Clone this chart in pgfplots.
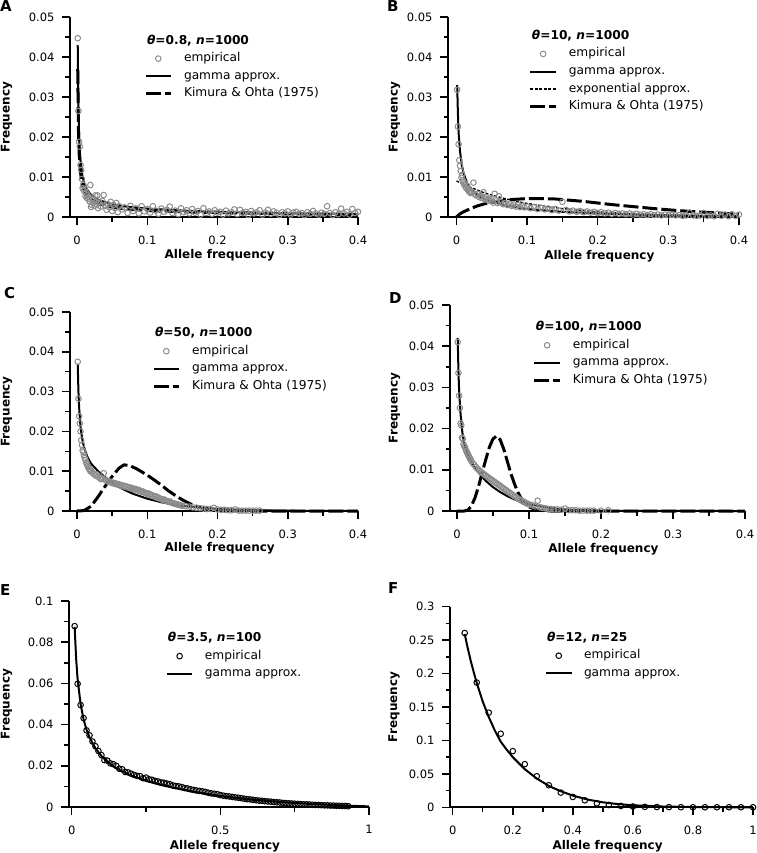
\documentclass[border=0pt]{standalone}
\usepackage{fontspec}
\setmainfont{DejaVu Sans}
\usepackage{pgfplots}
\pgfplotsset{compat=1.18}

\pgfplotsset{
  panel/.style={
    scale only axis,
    axis lines=left,
    axis line style={-, line width=1.8pt},
    tick align=outside,
    major tick length=8pt,
    minor tick length=4.5pt,
    every tick/.style={black, line width=1.5pt},
    minor x tick num=1, minor y tick num=1,
    scaled x ticks=false, scaled y ticks=false,
    tick label style={font=\fontsize{11.5}{13}\selectfont},
    xticklabel shift=7pt, yticklabel shift=4pt,
    /pgf/number format/fixed,
    /pgf/number format/precision=3,
    /pgf/number format/assume math mode=true,
    ymin=0, clip=false,
    xlabel={Allele frequency}, ylabel={Frequency},
    label style={font=\bfseries\fontsize{12}{14}\selectfont},
    legend style={draw=none, fill=none, inner sep=0pt, outer sep=0pt,
      anchor=north west, row sep=5.6pt, column sep=11.5pt,
      nodes={inner sep=0pt, text height=9pt, text depth=3pt,
        font=\fontsize{12.2}{14}\selectfont}},
    legend cell align=left,
    legend image code/.code={\draw[mark repeat=2,mark phase=2,##1]
      plot coordinates {(0pt,0pt) (12.75pt,0pt) (25.5pt,0pt)};},
  },
  emp/.style={only marks, mark=o, mark size=2.8pt,
    mark options={line width=1pt, draw=#1}, draw=#1,
    legend image code/.code={\draw[mark repeat=2,mark phase=2,##1]
      plot coordinates {(0pt,0pt) (12.75pt,0pt) (25.5pt,0pt)};}},
  gam/.style={black, line width=2pt},
  kim/.style={black, line width=3pt, dash pattern=on 15pt off 4pt},
  expo/.style={black, line width=1.3pt, dash pattern=on 3pt off 1.5pt},
}
\colorlet{empgray}{black!45}

\begin{document}
\begin{tikzpicture}
\path[use as bounding box] (0pt,0pt) rectangle (756pt,-853pt);

% ---------- A ----------
\begin{axis}[panel, at={(70pt,-217pt)}, anchor=south west,
  width=288pt, height=200pt, xmin=-0.01, xmax=0.4, ymax=0.05,
  xtick={0,0.1,0.2,0.3,0.4}, ytick={0,0.01,0.02,0.03,0.04,0.05},
  xlabel style={at={(axis description cs:0.52,-0.19)}, anchor=center},
  ylabel style={at={(axis description cs:-0.2205,0.5)}, anchor=center},
  legend style={at={(0.257,0.91)}}]
\addlegendimage{empty legend}
\addlegendentry{\hspace*{-37pt}\textbf{\textit{θ}=0.8, \textit{n}=1000}}
\addplot[emp=empgray] coordinates {
(0.001,0.0447)(0.002,0.0265)(0.003,0.0188)(0.004,0.0176)(0.005,0.0130)(0.006,0.0118)
(0.007,0.0095)(0.008,0.0072)(0.009,0.0080)(0.010,0.0065)(0.011,0.0070)(0.012,0.0052)
(0.013,0.0060)(0.014,0.0048)(0.015,0.0055)(0.016,0.0045)(0.017,0.0050)(0.018,0.0039)
(0.019,0.0080)(0.020,0.0025)(0.021,0.0030)(0.022,0.0045)(0.023,0.0035)(0.024,0.0042)
(0.025,0.0028)(0.026,0.0054)(0.027,0.0038)(0.028,0.0031)(0.029,0.0054)(0.030,0.0022)
(0.032,0.0036)(0.034,0.0026)(0.036,0.0040)(0.038,0.0055)(0.040,0.0028)(0.042,0.0018)
(0.044,0.0032)(0.046,0.0024)(0.048,0.0038)(0.050,0.0015)(0.052,0.0030)(0.054,0.0022)
(0.056,0.0035)(0.058,0.0012)(0.060,0.0027)(0.064,0.0019)(0.068,0.0024)(0.072,0.0010)
(0.076,0.0028)(0.080,0.0015)(0.084,0.0022)(0.088,0.0009)(0.092,0.0027)(0.096,0.0014)
(0.100,0.0020)(0.104,0.0011)(0.108,0.0027)(0.112,0.0016)(0.116,0.0008)(0.120,0.0021)
(0.124,0.0013)(0.128,0.0018)(0.132,0.0026)(0.136,0.0010)(0.140,0.0016)(0.144,0.0007)
(0.148,0.0022)(0.152,0.0012)(0.156,0.0017)(0.160,0.0009)(0.164,0.0020)(0.168,0.0011)
(0.172,0.0015)(0.176,0.0006)(0.180,0.0022)(0.184,0.0010)(0.188,0.0014)(0.192,0.0008)
(0.196,0.0017)(0.200,0.0011)(0.204,0.0013)(0.208,0.0006)(0.212,0.0016)(0.216,0.0009)
(0.220,0.0012)(0.224,0.0019)(0.228,0.0007)(0.232,0.0018)(0.236,0.0010)(0.240,0.0013)
(0.244,0.0005)(0.248,0.0015)(0.252,0.0009)(0.256,0.0012)(0.260,0.0017)(0.264,0.0006)
(0.268,0.0011)(0.272,0.0018)(0.276,0.0008)(0.280,0.0014)(0.284,0.0010)(0.288,0.0005)
(0.292,0.0012)(0.296,0.0009)(0.300,0.0014)(0.304,0.0006)(0.308,0.0011)(0.312,0.0013)
(0.316,0.0008)(0.320,0.0010)(0.324,0.0005)(0.328,0.0012)(0.332,0.0008)(0.336,0.0015)
(0.340,0.0009)(0.344,0.0006)(0.348,0.0011)(0.352,0.0008)(0.356,0.0027)(0.360,0.0010)
(0.364,0.0005)(0.368,0.0012)(0.372,0.0007)(0.376,0.0021)(0.380,0.0009)(0.384,0.0013)
(0.388,0.0006)(0.392,0.0020)(0.396,0.0010)(0.400,0.0013)};
\addlegendentry{empirical}
\addplot[gam] coordinates {
(0.001,0.043)(0.002,0.027)(0.003,0.020)(0.004,0.0165)(0.005,0.014)(0.0075,0.0105)
(0.01,0.0085)(0.015,0.0066)(0.02,0.0055)(0.03,0.0043)(0.04,0.0037)(0.05,0.0032)
(0.07,0.0026)(0.1,0.0021)(0.15,0.0016)(0.2,0.0013)(0.25,0.0011)(0.3,0.0009)
(0.35,0.0008)(0.4,0.0007)};
\addlegendentry{gamma approx.}
\addplot[kim] coordinates {
(0.001,0.037)(0.002,0.022)(0.003,0.016)(0.005,0.011)(0.0075,0.0082)(0.01,0.0067)
(0.015,0.0052)(0.02,0.0044)(0.03,0.0034)(0.05,0.0025)(0.07,0.0020)(0.1,0.0016)
(0.15,0.0013)(0.2,0.0011)(0.3,0.0008)(0.4,0.0006)};
\addlegendentry{Kimura \& Ohta (1975)}
\end{axis}

% ---------- B ----------
\begin{axis}[panel, at={(448pt,-217pt)}, anchor=south west,
  width=291pt, height=200pt, xmin=-0.012, xmax=0.4, ymax=0.05,
  xtick={0,0.1,0.2,0.3,0.4}, ytick={0,0.01,0.02,0.03,0.04,0.05},
  xlabel style={at={(axis description cs:0.52,-0.195)}, anchor=center},
  ylabel style={at={(axis description cs:-0.184,0.5)}, anchor=center},
  legend style={at={(0.278,0.9335)}}]
\addlegendimage{empty legend}
\addlegendentry{\hspace*{-37pt}\textbf{\textit{θ}=10, \textit{n}=1000}}
\addplot[emp=empgray] coordinates {
(0.001,0.0318)(0.002,0.0226)(0.003,0.0182)(0.004,0.0142)(0.005,0.0128)(0.006,0.0115)
(0.007,0.0098)(0.008,0.0105)(0.009,0.0092)(0.010,0.0088)(0.011,0.0080)(0.012,0.0084)
(0.013,0.0075)(0.014,0.0072)(0.015,0.0078)(0.016,0.0068)(0.017,0.0071)(0.018,0.0063)
(0.019,0.0066)(0.020,0.0060)(0.022,0.0062)(0.024,0.0086)(0.026,0.0057)(0.028,0.0054)
(0.030,0.0058)(0.032,0.0050)(0.034,0.0053)(0.036,0.0047)(0.038,0.0062)(0.040,0.0045)
(0.042,0.0049)(0.044,0.0042)(0.046,0.0046)(0.048,0.0040)(0.050,0.0044)(0.052,0.0036)
(0.054,0.0058)(0.056,0.0041)(0.058,0.0035)(0.060,0.0052)(0.063,0.0037)(0.066,0.0032)
(0.069,0.0035)(0.072,0.0030)(0.075,0.0033)(0.078,0.0028)(0.081,0.0031)(0.084,0.0026)
(0.087,0.0030)(0.090,0.0025)(0.093,0.0028)(0.096,0.0024)(0.100,0.0026)(0.105,0.0022)
(0.110,0.0025)(0.115,0.0020)(0.120,0.0023)(0.125,0.0019)(0.130,0.0021)(0.135,0.0017)
(0.140,0.0020)(0.145,0.0016)(0.150,0.0038)(0.155,0.0018)(0.160,0.0014)(0.165,0.0016)
(0.170,0.0013)(0.175,0.0015)(0.180,0.0012)(0.185,0.0014)(0.190,0.0011)(0.195,0.0013)
(0.200,0.0010)(0.205,0.0012)(0.210,0.0009)(0.215,0.0011)(0.220,0.0008)(0.225,0.0010)
(0.230,0.0008)(0.235,0.0009)(0.240,0.0007)(0.245,0.0009)(0.250,0.0006)(0.255,0.0008)
(0.260,0.0006)(0.265,0.0007)(0.270,0.0005)(0.275,0.0007)(0.280,0.0005)(0.285,0.0006)
(0.290,0.0004)(0.295,0.0006)(0.300,0.0004)(0.305,0.0005)(0.310,0.0004)(0.315,0.0005)
(0.320,0.0003)(0.325,0.0004)(0.330,0.0011)(0.335,0.0004)(0.340,0.0003)(0.345,0.0004)
(0.350,0.0010)(0.355,0.0003)(0.360,0.0004)(0.365,0.0002)(0.370,0.0008)(0.375,0.0003)
(0.380,0.0006)(0.385,0.0002)(0.390,0.0007)(0.395,0.0003)(0.400,0.0006)};
\addlegendentry{empirical}
\addplot[gam] coordinates {
(0.001,0.033)(0.002,0.026)(0.003,0.021)(0.005,0.0165)(0.0075,0.0130)(0.01,0.0110)
(0.015,0.0085)(0.02,0.0070)(0.03,0.0055)(0.04,0.0045)(0.05,0.0038)(0.07,0.0029)
(0.1,0.0020)(0.15,0.0013)(0.2,0.0009)(0.25,0.0006)(0.3,0.0004)(0.35,0.0003)(0.4,0.0002)};
\addlegendentry{gamma approx.}
\addplot[expo] coordinates {
(0,0.0090)(0.02,0.0074)(0.04,0.0060)(0.06,0.0050)(0.08,0.0041)(0.1,0.0034)
(0.125,0.0027)(0.15,0.0021)(0.175,0.0017)(0.2,0.0013)(0.25,0.0008)(0.3,0.0005)
(0.35,0.00032)(0.4,0.0002)};
\addlegendentry{exponential approx.}
\addplot[kim] coordinates {
(0.0,0.0)(0.005,0.0008)(0.01,0.0013)(0.02,0.0021)(0.03,0.0028)(0.04,0.0033)
(0.05,0.0037)(0.06,0.0040)(0.08,0.0044)(0.1,0.0046)(0.12,0.0046)(0.14,0.0045)
(0.16,0.0042)(0.18,0.0039)(0.2,0.0035)(0.22,0.0031)(0.25,0.0026)(0.28,0.0021)
(0.3,0.0018)(0.33,0.0014)(0.36,0.0011)(0.4,0.0007)};
\addlegendentry{Kimura \& Ohta (1975)}
\end{axis}

% ---------- C ----------
\begin{axis}[panel, at={(70pt,-511pt)}, anchor=south west,
  width=288pt, height=199pt, xmin=-0.01, xmax=0.4, ymax=0.05,
  xtick={0,0.1,0.2,0.3,0.4}, ytick={0,0.01,0.02,0.03,0.04,0.05},
  xlabel style={at={(axis description cs:0.52,-0.186)}, anchor=center},
  ylabel style={at={(axis description cs:-0.2205,0.5)}, anchor=center},
  legend style={at={(0.285,0.9216)}}]
\addlegendimage{empty legend}
\addlegendentry{\hspace*{-37pt}\textbf{\textit{θ}=50, \textit{n}=1000}}
\addplot[emp=empgray] coordinates {
(0.001,0.0375)(0.002,0.0282)(0.003,0.0238)(0.004,0.0220)(0.005,0.0200)(0.006,0.0178)
(0.007,0.0166)(0.008,0.0152)(0.009,0.0148)(0.010,0.0140)(0.011,0.0133)(0.012,0.0128)
(0.013,0.0122)(0.014,0.0119)(0.015,0.0113)(0.016,0.0110)(0.017,0.0106)(0.018,0.0104)
(0.019,0.0100)(0.020,0.0102)(0.022,0.0096)(0.024,0.0093)(0.026,0.0089)(0.028,0.0092)
(0.030,0.0086)(0.032,0.0083)(0.034,0.0080)(0.036,0.0082)(0.038,0.0095)(0.040,0.0078)
(0.042,0.0076)(0.044,0.0074)(0.046,0.0075)(0.048,0.0072)(0.050,0.0070)(0.052,0.0071)
(0.054,0.0068)(0.056,0.0069)(0.058,0.0066)(0.060,0.0067)(0.062,0.0064)(0.064,0.0065)
(0.066,0.0062)(0.068,0.0063)(0.070,0.0060)(0.072,0.0061)(0.074,0.0058)(0.076,0.0059)
(0.078,0.0056)(0.080,0.0057)(0.082,0.0054)(0.084,0.0055)(0.086,0.0052)(0.088,0.0053)
(0.090,0.0050)(0.092,0.0048)(0.094,0.0049)(0.096,0.0046)(0.098,0.0045)(0.100,0.0043)
(0.102,0.0044)(0.104,0.0040)(0.106,0.0041)(0.108,0.0038)(0.110,0.0036)(0.112,0.0037)
(0.114,0.0033)(0.116,0.0034)(0.118,0.0031)(0.120,0.0030)(0.122,0.0028)(0.124,0.0029)
(0.126,0.0026)(0.128,0.0025)(0.130,0.0023)(0.132,0.0024)(0.134,0.0021)(0.136,0.0020)
(0.138,0.0019)(0.140,0.0018)(0.142,0.0017)(0.144,0.0016)(0.146,0.0015)(0.148,0.0014)
(0.150,0.0013)(0.155,0.0012)(0.160,0.0011)(0.165,0.0009)(0.170,0.0008)(0.175,0.0007)
(0.180,0.0006)(0.185,0.0005)(0.190,0.0005)(0.195,0.0008)(0.200,0.0004)(0.205,0.0003)
(0.210,0.0003)(0.215,0.0002)(0.220,0.0002)(0.225,0.0004)(0.230,0.0001)(0.235,0.0001)
(0.240,0.0001)(0.245,0.0001)(0.250,0.0001)(0.255,0.0001)(0.260,0.0001)};
\addlegendentry{empirical}
\addplot[gam] coordinates {
(0.001,0.037)(0.002,0.030)(0.003,0.026)(0.005,0.021)(0.0075,0.018)(0.01,0.0160)
(0.015,0.0135)(0.02,0.0119)(0.03,0.0100)(0.04,0.0085)(0.05,0.0072)(0.06,0.0060)
(0.07,0.0051)(0.08,0.0043)(0.1,0.0031)(0.12,0.0022)(0.15,0.0013)(0.2,0.0005)
(0.25,0.0002)(0.3,0.00007)(0.4,0.00001)};
\addlegendentry{gamma approx.}
\addplot[kim] coordinates {
(0,0)(0.01,0.0001)(0.02,0.0012)(0.03,0.0036)(0.04,0.0062)(0.05,0.0087)(0.06,0.0108)
(0.067,0.0116)(0.075,0.0114)(0.085,0.0106)(0.1,0.0090)(0.11,0.0078)(0.12,0.0065)
(0.13,0.0051)(0.14,0.0039)(0.15,0.0028)(0.16,0.0019)(0.17,0.0012)(0.18,0.0007)
(0.2,0.0002)(0.22,0.00005)(0.25,0)(0.4,0)};
\addlegendentry{Kimura \& Ohta (1975)}
\end{axis}

% ---------- D ----------
\begin{axis}[panel, at={(450pt,-511pt)}, anchor=south west,
  width=295pt, height=206pt, xmin=-0.0097, xmax=0.4, ymax=0.05,
  xtick={0,0.1,0.2,0.3,0.4}, ytick={0,0.01,0.02,0.03,0.04,0.05},
  xlabel style={at={(axis description cs:0.52,-0.184)}, anchor=center},
  ylabel style={at={(axis description cs:-0.188,0.5)}, anchor=center},
  legend style={at={(0.281,0.919)}}]
\addlegendimage{empty legend}
\addlegendentry{\hspace*{-37pt}\textbf{\textit{θ}=100, \textit{n}=1000}}
\addplot[emp=empgray] coordinates {
(0.001,0.0410)(0.002,0.0335)(0.003,0.0280)(0.004,0.0250)(0.005,0.0213)(0.006,0.0208)
(0.007,0.0178)(0.008,0.0175)(0.009,0.0162)(0.010,0.0158)(0.011,0.0155)(0.012,0.0150)
(0.013,0.0146)(0.014,0.0142)(0.015,0.0138)(0.016,0.0135)(0.017,0.0131)(0.018,0.0128)
(0.019,0.0124)(0.020,0.0121)(0.022,0.0116)(0.024,0.0112)(0.026,0.0107)(0.028,0.0103)
(0.030,0.0100)(0.032,0.0097)(0.034,0.0094)(0.036,0.0091)(0.038,0.0088)(0.040,0.0086)
(0.042,0.0083)(0.044,0.0081)(0.046,0.0078)(0.048,0.0076)(0.050,0.0073)(0.052,0.0071)
(0.054,0.0068)(0.056,0.0066)(0.058,0.0063)(0.060,0.0061)(0.062,0.0058)(0.064,0.0056)
(0.066,0.0053)(0.068,0.0051)(0.070,0.0048)(0.072,0.0046)(0.074,0.0043)(0.076,0.0041)
(0.078,0.0038)(0.080,0.0036)(0.082,0.0034)(0.084,0.0031)(0.086,0.0029)(0.088,0.0027)
(0.090,0.0025)(0.092,0.0023)(0.094,0.0021)(0.096,0.0019)(0.098,0.0018)(0.100,0.0016)
(0.103,0.0015)(0.106,0.0013)(0.109,0.0011)(0.112,0.0025)(0.115,0.0009)(0.118,0.0008)
(0.121,0.0007)(0.124,0.0006)(0.127,0.0005)(0.130,0.0005)(0.135,0.0004)(0.140,0.0004)
(0.145,0.0003)(0.150,0.0006)(0.155,0.0002)(0.160,0.0002)(0.165,0.0002)(0.170,0.0001)
(0.175,0.0001)(0.180,0.0001)(0.185,0.0001)(0.190,0.0001)(0.200,0.0001)(0.210,0.0002)};
\addlegendentry{empirical}
\addplot[gam] coordinates {
(0.001,0.042)(0.002,0.034)(0.003,0.029)(0.005,0.0235)(0.0075,0.0190)(0.01,0.0163)
(0.015,0.0135)(0.02,0.0120)(0.025,0.0105)(0.03,0.0093)(0.04,0.0073)(0.05,0.0058)
(0.06,0.0046)(0.07,0.0036)(0.08,0.0028)(0.09,0.0022)(0.1,0.0017)(0.12,0.0010)
(0.14,0.0005)(0.16,0.0003)(0.2,0.00008)(0.25,0.00001)(0.4,0)};
\addlegendentry{gamma approx.}
\addplot[kim] coordinates {
(0,0)(0.01,0)(0.015,0.0002)(0.02,0.0012)(0.025,0.0032)(0.03,0.0060)(0.035,0.0093)
(0.04,0.0125)(0.045,0.0155)(0.05,0.0175)(0.055,0.0182)(0.06,0.0173)(0.065,0.0150)
(0.07,0.0120)(0.075,0.0090)(0.08,0.0065)(0.085,0.0044)(0.09,0.0028)(0.095,0.0017)
(0.1,0.0010)(0.11,0.0003)(0.12,0.0001)(0.13,0)(0.4,0)};
\addlegendentry{Kimura \& Ohta (1975)}
\end{axis}

% ---------- E ----------
\begin{axis}[panel, at={(69pt,-807pt)}, anchor=south west,
  width=300pt, height=206pt, xmin=-0.009, xmax=1, ymax=0.1,
  xtick={0,0.5,1}, ytick={0,0.02,0.04,0.06,0.08,0.1},
  xlabel style={at={(axis description cs:0.52,-0.189)}, anchor=center},
  ylabel style={at={(axis description cs:-0.2083,0.5)}, anchor=center},
  legend style={at={(0.323,0.847)}}]
\addlegendimage{empty legend}
\addlegendentry{\hspace*{-37pt}\textbf{\textit{θ}=3.5, \textit{n}=100}}
\addplot[emp=black] coordinates {
(0.01,0.0878)(0.02,0.0598)(0.03,0.0495)(0.04,0.0432)(0.05,0.0372)(0.06,0.0348)
(0.07,0.0318)(0.08,0.0295)(0.09,0.0272)(0.10,0.0252)(0.11,0.0228)(0.12,0.0225)
(0.13,0.0212)(0.14,0.0208)(0.15,0.0200)(0.16,0.0186)(0.17,0.0183)(0.18,0.0170)
(0.19,0.0168)(0.20,0.0162)(0.21,0.0156)(0.22,0.0151)(0.23,0.0150)(0.24,0.0140)
(0.25,0.0143)(0.26,0.0135)(0.27,0.0132)(0.28,0.0127)(0.29,0.0124)(0.30,0.0120)
(0.31,0.0118)(0.32,0.0114)(0.33,0.0111)(0.34,0.0105)(0.35,0.0102)(0.36,0.0100)
(0.37,0.0097)(0.38,0.0092)(0.39,0.0090)(0.40,0.0086)(0.41,0.0083)(0.42,0.0080)
(0.43,0.0078)(0.44,0.0076)(0.45,0.0073)(0.46,0.0069)(0.47,0.0066)(0.48,0.0064)
(0.49,0.0062)(0.50,0.0058)(0.51,0.0055)(0.52,0.0053)(0.53,0.0051)(0.54,0.0049)
(0.55,0.0047)(0.56,0.0045)(0.57,0.0043)(0.58,0.0040)(0.59,0.0038)(0.60,0.0037)
(0.61,0.0035)(0.62,0.0033)(0.63,0.0031)(0.64,0.0030)(0.65,0.0028)(0.66,0.0027)
(0.67,0.0026)(0.68,0.0024)(0.69,0.0023)(0.70,0.0022)(0.71,0.0020)(0.72,0.0019)
(0.73,0.0018)(0.74,0.0017)(0.75,0.0016)(0.76,0.0015)(0.77,0.0014)(0.78,0.0013)
(0.79,0.0013)(0.80,0.0012)(0.81,0.0011)(0.82,0.0010)(0.83,0.0010)(0.84,0.0009)
(0.85,0.0008)(0.86,0.0008)(0.87,0.0007)(0.88,0.0007)(0.89,0.0006)(0.90,0.0006)
(0.91,0.0005)(0.92,0.0005)(0.93,0.0004)};
\addlegendentry{empirical}
\addplot[gam] coordinates {
(0.01,0.0875)(0.015,0.072)(0.02,0.062)(0.03,0.050)(0.04,0.0425)(0.05,0.0375)
(0.06,0.0338)(0.08,0.0285)(0.1,0.0248)(0.12,0.0220)(0.15,0.0188)(0.2,0.0152)
(0.25,0.0127)(0.3,0.0107)(0.35,0.0091)(0.4,0.0077)(0.45,0.0065)(0.5,0.0054)
(0.55,0.0045)(0.6,0.0037)(0.7,0.0024)(0.8,0.0015)(0.9,0.0008)(1.0,0.0003)};
\addlegendentry{gamma approx.}
\end{axis}

% ---------- F ----------
\begin{axis}[panel, at={(450pt,-807.3pt)}, anchor=south west,
  width=303pt, height=200.7pt, xmin=-0.009, xmax=1, ymax=0.3,
  xtick={0,0.2,0.4,0.6,0.8,1}, ytick={0,0.05,0.1,0.15,0.2,0.25,0.3},
  xlabel style={at={(axis description cs:0.52,-0.195)}, anchor=center},
  ylabel style={at={(axis description cs:-0.185,0.5)}, anchor=center},
  legend style={at={(0.3135,0.873)}}]
\addlegendimage{empty legend}
\addlegendentry{\hspace*{-37pt}\textbf{\textit{θ}=12, \textit{n}=25}}
\addplot[emp=black] coordinates {
(0.04,0.2605)(0.08,0.1865)(0.12,0.1415)(0.16,0.110)(0.20,0.084)(0.24,0.0645)
(0.28,0.0465)(0.32,0.033)(0.36,0.022)(0.40,0.0155)(0.44,0.0105)(0.48,0.006)
(0.52,0.0035)(0.56,0.002)(0.60,0.0012)(0.64,0.0007)(0.68,0.0004)(0.72,0.0003)
(0.76,0.0002)(0.80,0.0001)(0.84,0.0001)(0.88,0.0001)(0.92,0.0001)(0.96,0.0001)(1.00,0.0001)};
\addlegendentry{empirical}
\addplot[gam] coordinates {
(0.04,0.259)(0.05,0.238)(0.06,0.219)(0.07,0.202)(0.08,0.186)(0.1,0.158)(0.12,0.135)
(0.14,0.115)(0.16,0.098)(0.18,0.086)(0.2,0.075)(0.24,0.057)(0.28,0.043)(0.32,0.032)
(0.36,0.024)(0.4,0.0175)(0.45,0.0115)(0.5,0.0075)(0.55,0.0048)(0.6,0.003)(0.7,0.0012)
(0.8,0.0004)(0.9,0.0001)(1.0,0.00003)};
\addlegendentry{gamma approx.}
\end{axis}

% panel letters
\node[anchor=north west, inner sep=0pt, font=\bfseries\fontsize{15}{18}\selectfont] at (0pt,0pt) {A};
\node[anchor=north west, inner sep=0pt, font=\bfseries\fontsize{15}{18}\selectfont] at (387pt,0pt) {B};
\node[anchor=north west, inner sep=0pt, font=\bfseries\fontsize{15}{18}\selectfont] at (4pt,-287pt) {C};
\node[anchor=north west, inner sep=0pt, font=\bfseries\fontsize{15}{18}\selectfont] at (389pt,-292pt) {D};
\node[anchor=north west, inner sep=0pt, font=\bfseries\fontsize{15}{18}\selectfont] at (0pt,-584pt) {E};
\node[anchor=north west, inner sep=0pt, font=\bfseries\fontsize{15}{18}\selectfont] at (388pt,-582pt) {F};
\end{tikzpicture}
\end{document}
